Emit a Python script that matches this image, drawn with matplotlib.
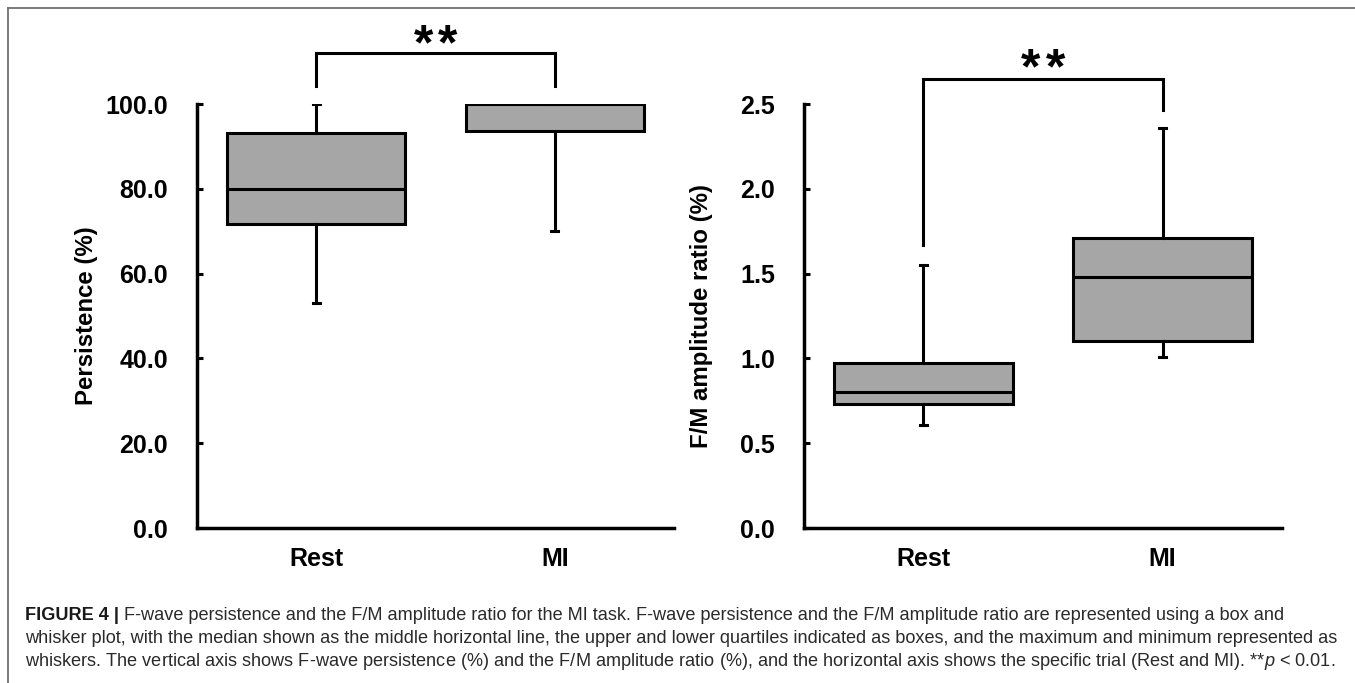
#!/usr/bin/env python3
''' F-wave persistence and F/M amplitude ratio, Rest vs MI
'''

import matplotlib
matplotlib.use('Agg')
from matplotlib import pyplot
from matplotlib.lines import Line2D

#
# data
#

groups = ['Rest', 'MI']

persist_min = [53.0, 70.0]
persist_q1 = [71.8, 93.7]
persist_med = [80.0, 100.0]
persist_q3 = [93.2, 100.0]
persist_max = [100.0, 100.0]
persist_ticks = [0, 20, 40, 60, 80, 100]

ratio_min = [0.61, 1.01]
ratio_q1 = [0.73, 1.10]
ratio_med = [0.80, 1.48]
ratio_q3 = [0.97, 1.71]
ratio_max = [1.55, 2.36]
ratio_ticks = [0.0, 0.5, 1.0, 1.5, 2.0, 2.5]

caption_head = 'FIGURE 4 |'
caption_lines = [
    ' F-wave persistence and the F/M amplitude ratio for the MI task. '
    'F-wave persistence and the F/M amplitude ratio are represented using a box and',
    'whisker plot, with the median shown as the middle horizontal line, the upper and '
    'lower quartiles indicated as boxes, and the maximum and minimum represented as',
    'whiskers. The vertical axis shows F-wave persistence (%) and the F/M amplitude '
    'ratio (%), and the horizontal axis shows the specific trial (Rest and MI). '
    '**$p$ < 0.01.',
]

#
# functions
#

LW = 2.2


def stats(lo, q1, med, q3, hi):
    return [dict(whislo=lo[i], q1=q1[i], med=med[i], q3=q3[i], whishi=hi[i],
                 label=groups[i]) for i in range(len(groups))]


def panel(ax, st, ticks, fmt, ylabel, labx, bracket):
    ax.bxp(st, positions=[0, 1], widths=0.745, patch_artist=True,
           showfliers=False, capwidths=0.03,
           boxprops=dict(facecolor='#a6a6a6', edgecolor='black', linewidth=LW),
           medianprops=dict(color='black', linewidth=LW),
           whiskerprops=dict(color='black', linewidth=LW),
           capprops=dict(color='black', linewidth=LW))
    ax.set_xlim(-0.5, 1.5)
    ax.set_ylim(ticks[0], ticks[-1])
    ax.set_yticks(ticks)
    ax.set_yticklabels([fmt.format(t) for t in ticks])
    for s in ['top', 'right']:
        ax.spines[s].set_visible(False)
    for s in ['left', 'bottom']:
        ax.spines[s].set_linewidth(LW + 0.3)
        ax.spines[s].set_clip_on(False)
    ax.tick_params(axis='y', direction='in', length=4, width=LW, pad=21,
                   labelsize=18)
    ax.tick_params(axis='x', length=0, pad=14, labelsize=18)
    for lab in ax.get_xticklabels() + ax.get_yticklabels():
        lab.set_fontweight('bold')
    ax.set_ylabel(ylabel, fontsize=17.3, fontweight='bold')
    ax.yaxis.set_label_coords(labx, 0.5)

    # significance bracket
    yl0, ytop, yl1, ystar = bracket
    ax.plot([0, 0, 1, 1], [yl0, ytop, ytop, yl1], color='black', lw=LW,
            clip_on=False, solid_joinstyle='miter')
    for dx in (-0.052, 0.052):
        ax.text(0.5 + dx, ystar, '*', ha='center', va='center', fontsize=36,
                fontweight='bold', clip_on=False)


#
# main
#

if __name__ == '__main__':

    pyplot.rcParams['font.family'] = ['Liberation Sans', 'DejaVu Sans']
    pyplot.rcParams['mathtext.fontset'] = 'custom'
    pyplot.rcParams['mathtext.it'] = 'Liberation Sans:italic'
    pyplot.rcParams['mathtext.rm'] = 'Liberation Sans'

    W, H = 1355, 683
    fig = pyplot.figure(figsize=(W / 100, H / 100), dpi=100)

    def fx(px):
        return px / W

    def fy(py):
        return 1 - py / H

    ax1 = fig.add_axes([fx(197), fy(528), fx(477), 424 / H])
    ax2 = fig.add_axes([fx(804), fy(528), fx(478), 424 / H])

    panel(ax1, stats(persist_min, persist_q1, persist_med, persist_q3, persist_max),
          persist_ticks, '{:.1f}', 'Persistence (%)', -0.2075,
          (104.2, 112.0, 104.2, 113.6))
    panel(ax2, stats(ratio_min, ratio_q1, ratio_med, ratio_q3, ratio_max),
          ratio_ticks, '{:.1f}', 'F/M amplitude ratio (%)', -0.190,
          (1.67, 2.645, 2.465, 2.70))

    # frame lines (top and left)
    border = '#707070'
    fig.add_artist(Line2D([fx(8), 1], [fy(8), fy(8)], color=border, lw=1.3))
    fig.add_artist(Line2D([fx(8), fx(8)], [fy(8), 0], color=border, lw=1.3))

    # caption
    cap_color = '#2a2a2a'
    cap_size = 13.07
    baselines = [619.5, 643, 666.5]
    head = fig.text(fx(25), fy(baselines[0]), caption_head, fontsize=cap_size,
                    fontweight='bold', color='#1a1a1a', va='baseline')
    fig.canvas.draw()
    ext = head.get_window_extent(fig.canvas.get_renderer())
    fig.text(ext.x1 / W, fy(baselines[0]), caption_lines[0], fontsize=cap_size,
             color=cap_color, va='baseline')
    for line, b in zip(caption_lines[1:], baselines[1:]):
        fig.text(fx(25), fy(b), line, fontsize=cap_size, color=cap_color,
                 va='baseline')

    fig.savefig('out.png', dpi=100)
